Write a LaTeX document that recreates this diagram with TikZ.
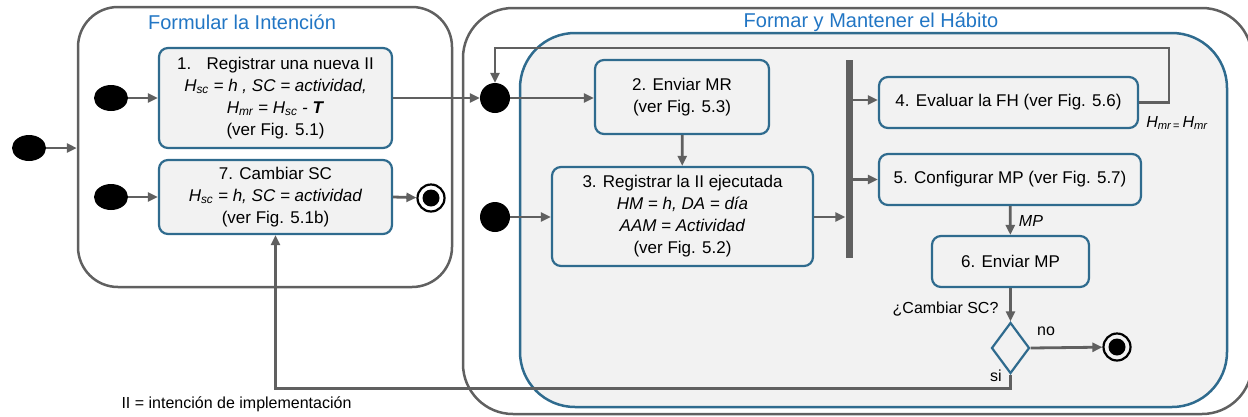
\documentclass[tikz,border=0pt]{standalone}
\usepackage{fontspec}
\setmainfont{Liberation Sans}
\usetikzlibrary{arrows.meta, positioning, shapes, fit, calc}

\definecolor{boxblue}{HTML}{2F6B8E}
\definecolor{linegray}{HTML}{606060}
\definecolor{titleblue}{HTML}{2276C4}
\definecolor{panelgray}{HTML}{F2F2F2}

\begin{document}
\begin{tikzpicture}[
  x=1pt, y=-1pt,
  font=\fontsize{17}{22}\selectfont,
  every node/.style={align=center},
  block/.style={draw=boxblue, line width=2.2pt, rounded corners=9pt, fill=panelgray, inner sep=0pt},
  region/.style={draw=linegray, line width=2.5pt, rounded corners=40pt, inner sep=0pt},
  flow/.style={draw=linegray, line width=2.8pt, -{Triangle[length=10pt,width=9pt]}},
  start/.style={ellipse, fill=black, minimum width=34pt, minimum height=26pt, inner sep=0pt},
  dot/.style={circle, fill=black, minimum size=30pt, inner sep=0pt},
  final/.style={circle, draw=black, line width=2.2pt, minimum size=27pt, inner sep=0pt,
    path picture={\fill[black] (path picture bounding box.center) circle (8.5pt);}},
  title/.style={text=titleblue, font=\fontsize{20}{24}\selectfont},
  small/.style={font=\fontsize{16}{19}\selectfont},
  smallit/.style={font=\fontsize{16}{19}\selectfont\itshape},
]
\clip (0,0) rectangle (1248,416);

% Formular la intencion
\node [region, minimum width=374pt, minimum height=280pt] (formular) at (265,147) {};
\node [title] (formular_t) at (242,22) {Formular la Intención};

% Formar y mantener el habito
\node [region, rounded corners=50pt, minimum width=789pt, minimum height=406pt] (formar) at (857.5,211) {};
\node [title] (formar_t) at (871,22) {Formar y Mantener el Hábito};
\node [region, draw=boxblue, fill=panelgray, rounded corners=55pt, minimum width=707pt, minimum height=374pt] (panel) at (873.5,220) {};

% actividades
\node [block, minimum width=233pt, minimum height=100pt] (registrar) at (275.5,98)
  {1.\hspace{0.9em}Registrar una nueva II \\
   \textit{H\textsubscript{sc} = h , SC = actividad,} \\
   \textit{H\textsubscript{mr} = H\textsubscript{sc} - \textbf{T}} \\
   (ver Fig. 5.1)};
\node [block, minimum width=233pt, minimum height=74pt] (cambiar) at (275.5,197)
  {7. Cambiar SC \\ \textit{H\textsubscript{sc} = h, SC = actividad} \\ (ver Fig. 5.1b)};
\node [block, minimum width=174pt, minimum height=74pt] (enviar_mr) at (682,97)
  {2. Enviar MR \\ (ver Fig. 5.3)};
\node [block, minimum width=261pt, minimum height=99pt] (ejecutada) at (682.5,216.5)
  {3. Registrar la II ejecutada \\ \textit{HM = h, DA = día} \\ \textit{AAM = Actividad} \\ (ver Fig. 5.2)};
\node [block, minimum width=259pt, minimum height=51pt] (evaluar) at (1008.5,102.5)
  {4. Evaluar la FH (ver Fig. 5.6)};
\node [block, minimum width=262pt, minimum height=51pt] (configurar) at (1010,179.5)
  {5. Configurar MP (ver Fig. 5.7)};
\node [block, minimum width=157pt, minimum height=51pt] (enviar_mp) at (1010.5,261.5)
  {6. Enviar MP};
\node [diamond, draw=boxblue, line width=2.2pt, fill=panelgray, inner sep=0pt,
       minimum width=38pt, minimum height=51pt] (decision) at (1010.5,348) {};

% estados iniciales, finales y fork
\node [start] (ini) at (29,148) {};
\node [start] (ini_reg) at (111,98) {};
\node [start] (ini_cam) at (111,197) {};
\node [dot] (union) at (495,98) {};
\node [dot] (ini_ej) at (495,217) {};
\node [final] (fin_cam) at (431,198) {};
\node [final] (fin_mp) at (1117,347) {};
\node [fill=linegray, minimum width=7pt, minimum height=198pt, inner sep=0pt] (fork) at (849,159) {};

\coordinate (loop) at (1169,48);

% transiciones
\draw[flow] (ini.east) -- (ini.east -| formular.west);
\draw[flow] (ini_reg) -- (registrar.west);
\draw[flow] (ini_cam) -- (cambiar.west);
\draw[flow] (cambiar.east) -- (fin_cam);
\draw[flow] (registrar.east) -- (union);
\draw[flow] (union.east) -- (union.east -| enviar_mr.west);
\draw[flow] (enviar_mr) -- (ejecutada);
\draw[flow] (ini_ej) -- (ejecutada.west |- ini_ej);
\draw[flow] (ejecutada.east |- ini_ej) -- (fork.west |- ini_ej);
\draw[flow] ([yshift=2.5pt]fork.east |- evaluar.west) -- ([yshift=2.5pt]evaluar.west);
\draw[flow] (fork.east |- configurar.west) -- (configurar.west);
\draw[flow] (configurar) -- node[right=4pt, smallit] {MP} (enviar_mp);
\draw[flow] (enviar_mp) -- (decision);
\draw[flow] (decision.east) -- (fin_mp);
\draw[flow] (evaluar.east) -| (loop) -| (union.north);
\draw[flow] (decision.south) -- ++(0,14) -| (cambiar.south);

% etiquetas
\node [smallit] (hmr) at (1177,123) {H\textsubscript{mr\,=}\,H\textsubscript{mr}};
\node [anchor=east, small] (pregunta) at (1002,309) {¿Cambiar SC?};
\node [small] (no) at (1046,331) {no};
\node [small] (si) at (996,376) {si};
\node [anchor=west, small] (nota) at (118,404) {II = intención de implementación};

\end{tikzpicture}
\end{document}
